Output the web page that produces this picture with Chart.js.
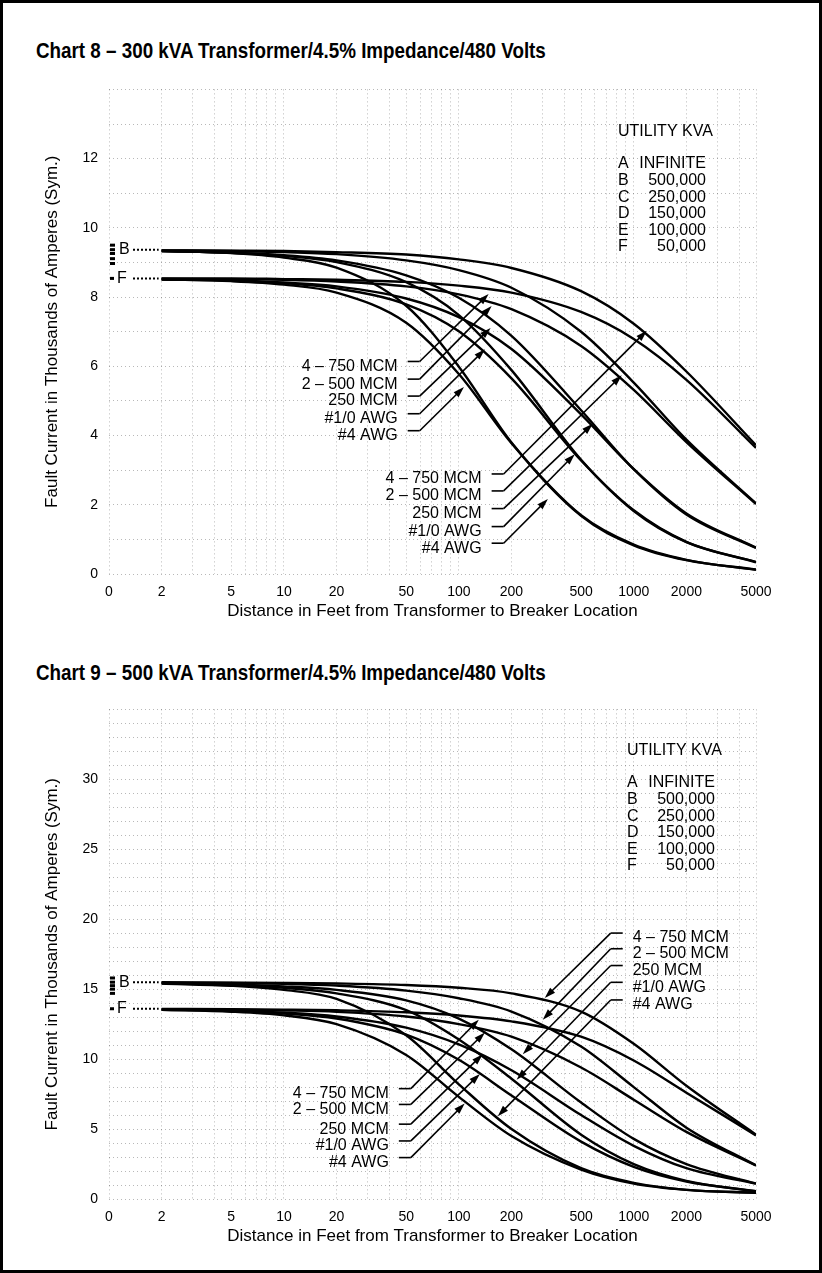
<!DOCTYPE html>
<html lang="en">
<head>
  <meta charset="UTF-8">
  <title>Fault Current Charts 8 and 9</title>
  <style>
    html, body {
      margin: 0;
      padding: 0;
      background: #fff;
    }
    body {
      width: 822px;
      height: 1273px;
      position: relative;
      overflow: hidden;
      font-family: "Liberation Sans", Arial, sans-serif;
    }
    .frame {
      position: absolute;
      left: 0;
      top: 0;
      width: 822px;
      height: 1273px;
      border: 3px solid #000;
      box-sizing: border-box;
    }
    h2 {
      position: absolute;
      left: 36px;
      margin: 0;
      line-height: 24px;
      font: bold 22px "Liberation Sans", Arial, sans-serif;
      white-space: nowrap;
      transform: scaleX(0.855);
      transform-origin: left center;
    }
    canvas {
      position: absolute;
      left: 0;
    }
  </style>
</head>
<body>
  <div class="frame"></div>
  <h2 style="top:38px">Chart 8 – 300 kVA Transformer/4.5% Impedance/480 Volts</h2>
  <canvas id="chart8" width="822" height="570" style="top:70px"></canvas>
  <h2 style="top:660px">Chart 9 – 500 kVA Transformer/4.5% Impedance/480 Volts</h2>
  <canvas id="chart9" width="822" height="575" style="top:690px"></canvas>

  <script src="https://cdn.jsdelivr.net/npm/chart.js"></script>
  <script>
    // distances (feet) where curves were read
    const distances = [2, 5, 10, 20, 50, 100, 200, 500, 1000, 2000, 5000];
    const xTickValues = [1, 2, 5, 10, 20, 50, 100, 200, 500, 1000, 2000, 5000];
    const xTickLabels = ['0', '2', '5', '10', '20', '50', '100', '200', '500', '1000', '2000', '5000'];
    const cables = ['4 – 750 MCM', '2 – 500 MCM', '250 MCM', '#1/0 AWG', '#4 AWG'];
    const utilityLetters = ['A', 'B', 'C', 'D', 'E', 'F'];
    const utilityKva = ['INFINITE', '500,000', '250,000', '150,000', '100,000', '50,000'];

    // chart 8 - 300 kVA (thousands of amperes)
    const c8Levels = [9.5, 9.37, 9.26, 9.11, 8.97, 8.54];
    const c8B750 = [9.35, 9.34, 9.33, 9.30, 9.23, 9.09, 8.84, 8.17, 7.23, 5.85, 3.72];
    const c8B500 = [9.35, 9.33, 9.30, 9.24, 9.06, 8.78, 8.27, 7.00, 5.53, 3.88, 2.04];
    const c8B250 = [9.33, 9.28, 9.21, 9.06, 8.63, 7.98, 6.88, 4.73, 3.03, 1.72, 0.75];
    const c8B10 = [9.33, 9.28, 9.19, 9.01, 8.43, 7.48, 5.89, 3.30, 1.82, 0.92, 0.35];
    const c8B4 = [9.33, 9.27, 9.14, 8.85, 7.75, 5.99, 3.80, 1.68, 0.83, 0.40, 0.13];
    const c8F750 = [8.54, 8.54, 8.52, 8.50, 8.44, 8.33, 8.13, 7.57, 6.79, 5.61, 3.64];
    const c8F500 = [8.53, 8.52, 8.50, 8.45, 8.31, 8.08, 7.65, 6.59, 5.32, 3.81, 2.02];
    const c8F250 = [8.52, 8.49, 8.42, 8.31, 7.96, 7.42, 6.50, 4.61, 3.03, 1.75, 0.76];
    const c8F10 = [8.51, 8.47, 8.40, 8.25, 7.79, 7.01, 5.65, 3.28, 1.84, 0.93, 0.34];
    const c8F4 = [8.51, 8.46, 8.36, 8.13, 7.26, 5.78, 3.78, 1.70, 0.85, 0.41, 0.12];
    const c8YLabels = [0, 2, 4, 6, 8, 10, 12];

    // chart 9 - 500 kVA
    const c9Levels = [15.8, 15.5, 15.25, 15.0, 14.7, 13.6];
    const c9B750 = [15.49, 15.47, 15.45, 15.41, 15.30, 15.10, 14.70, 13.40, 11.10, 8.10, 4.60];
    const c9B500 = [15.47, 15.44, 15.38, 15.25, 14.90, 14.35, 13.40, 10.90, 8.00, 5.10, 2.40];
    const c9B250 = [15.44, 15.34, 15.20, 14.95, 14.20, 12.90, 10.70, 6.90, 4.30, 2.50, 1.10];
    const c9B10 = [15.42, 15.30, 15.10, 14.70, 13.50, 11.40, 8.60, 4.60, 2.50, 1.30, 0.55];
    const c9B4 = [15.40, 15.24, 14.95, 14.30, 11.70, 8.20, 5.00, 2.20, 1.15, 0.65, 0.45];
    const c9F750 = [13.59, 13.57, 13.54, 13.49, 13.35, 13.12, 12.70, 11.60, 9.90, 7.60, 4.55];
    const c9F500 = [13.57, 13.54, 13.48, 13.38, 13.05, 12.50, 11.60, 9.40, 7.10, 4.80, 2.40];
    const c9F250 = [13.54, 13.46, 13.32, 13.05, 12.25, 11.05, 9.20, 6.00, 3.80, 2.20, 1.10];
    const c9F10 = [13.53, 13.43, 13.26, 12.90, 11.75, 9.95, 7.40, 4.10, 2.30, 1.25, 0.55];
    const c9F4 = [13.52, 13.39, 13.13, 12.50, 10.30, 7.30, 4.50, 2.10, 1.10, 0.65, 0.45];
    const c9YLabels = [0, 5, 10, 15, 20, 25, 30];

    // callouts: leader start (next to the text) and arrow tip, in feet / kA
    const c8UpperStart = [[51, 6.14], [51, 5.63], [51, 5.14], [51, 4.63], [51, 4.14]];
    const c8UpperTip = [[148, 8.09], [154, 7.74], [152, 7.11], [141, 6.49], [107, 5.4]];
    const c8LowerStart = [[154, 2.89], [154, 2.4], [154, 1.89], [154, 1.37], [154, 0.89]];
    const c8LowerTip = [[1187, 7.03], [854, 5.74], [583, 4.34], [460, 3.46], [323, 2.17]];
    const c9LeftStart = [[45.4, 7.89], [45.4, 6.76], [45.4, 5.35], [45.4, 4.15], [45.4, 2.96]];
    const c9LeftTip = [[130, 12.82], [141, 11.9], [137, 10.35], [132, 8.94], [108, 6.83]];
    const c9RightStart = [[865, 19.01], [865, 17.89], [865, 16.69], [865, 15.49], [865, 14.23]];
    const c9RightTip = [[310, 14.37], [302, 12.82], [232, 10.35], [214, 8.52], [167, 5.92]];

    const gridX = [];
    [1, 10, 100, 1000].forEach(decade => {
      for (let i = 1; i < 10; i++) {
        if (decade * i <= 5000) gridX.push(decade * i);
      }
    });

    const textFont = '16px "Liberation Sans", Arial, sans-serif';

    function arrow(ctx, x0, y0, x1, y1) {
      const a = Math.atan2(y1 - y0, x1 - x0);
      ctx.beginPath();
      ctx.moveTo(x0, y0);
      ctx.lineTo(x1 - Math.cos(a) * 6, y1 - Math.sin(a) * 6);
      ctx.stroke();
      ctx.beginPath();
      ctx.moveTo(x1, y1);
      ctx.lineTo(x1 - Math.cos(a) * 11 + Math.sin(a) * 3.5, y1 - Math.sin(a) * 11 - Math.cos(a) * 3.5);
      ctx.lineTo(x1 - Math.cos(a) * 11 - Math.sin(a) * 3.5, y1 - Math.sin(a) * 11 + Math.cos(a) * 3.5);
      ctx.closePath();
      ctx.fill();
    }

    const extras = {
      id: 'extras',
      afterDatasetsDraw(chart, args, opts) {
        const {ctx, chartArea, scales: {x, y}} = chart;
        ctx.save();
        ctx.fillStyle = '#000';
        ctx.strokeStyle = '#000';

        // utility level marks on the left edge
        opts.levels.forEach((v, i) => {
          ctx.fillRect(chartArea.left + 1, y.getPixelForValue(v) - 1.5, i === 5 ? 4 : 5, 3);
        });
        const x2 = x.getPixelForValue(2);
        ctx.font = '16px "Liberation Sans", Arial, sans-serif';
        ctx.textBaseline = 'middle';
        ctx.textAlign = 'left';
        [[1, 'B', 10], [5, 'F', 8]].forEach(([i, letter, dx]) => {
          const py = y.getPixelForValue(opts.levels[i]);
          ctx.fillText(letter, chartArea.left + dx, py);
          ctx.save();
          ctx.lineWidth = 2;
          ctx.setLineDash([2, 2]);
          ctx.beginPath();
          ctx.moveTo(chartArea.left + 24, py);
          ctx.lineTo(x2 - 3, py);
          ctx.stroke();
          ctx.restore();
        });

        // utility kVA legend
        ctx.font = textFont;
        const lx = opts.legend[0], ly = opts.legend[1];
        ctx.textAlign = 'left';
        ctx.fillText('UTILITY KVA', lx, ly);
        utilityLetters.forEach((letter, i) => {
          const ry = ly + 32 + i * 16.6;
          ctx.textAlign = 'left';
          ctx.fillText(letter, lx, ry);
          ctx.textAlign = 'right';
          ctx.fillText(utilityKva[i], lx + 88, ry);
        });

        // cable callouts
        ctx.lineWidth = 1.6;
        opts.callouts.forEach(group => {
          group.starts.forEach((s, i) => {
            const sx = x.getPixelForValue(s[0]);
            const sy = y.getPixelForValue(s[1]);
            const tx = x.getPixelForValue(group.tips[i][0]);
            const ty = y.getPixelForValue(group.tips[i][1]);
            const dir = tx > sx ? 1 : -1;
            ctx.beginPath();
            ctx.moveTo(sx, sy);
            ctx.lineTo(sx + dir * 12, sy);
            ctx.stroke();
            arrow(ctx, sx + dir * 12, sy, tx, ty);
            ctx.textAlign = dir > 0 ? 'right' : 'left';
            ctx.fillText(cables[i], sx - dir * 10, sy + 5);
          });
        });
        ctx.restore();
      }
    };

    function buildSeries(list) {
      return list.map(values => ({
        data: values.map((v, i) => ({x: distances[i], y: v})),
        borderColor: '#000',
        borderWidth: 2.4,
        pointRadius: 0,
        fill: false,
        cubicInterpolationMode: 'monotone'
      }));
    }

    function makeChart(id, series, yMax, yLabels, extraOpts) {
      return new Chart(document.getElementById(id), {
        type: 'line',
        data: {datasets: buildSeries(series)},
        options: {
          responsive: false,
          animation: false,
          layout: {padding: {top: 12, right: 66, left: 0, bottom: 0}},
          plugins: {
            legend: {display: false},
            tooltip: {enabled: false},
            extras: extraOpts
          },
          scales: {
            x: {
              type: 'logarithmic',
              min: 1,
              max: 5000,
              afterBuildTicks: scale => {
                scale.ticks = gridX.map(v => ({value: v}));
              },
              afterFit: scale => { scale.height = 66; },
              grid: {
                drawTicks: false,
                color: 'rgba(0,0,0,0.28)',
                lineWidth: 1
              },
              border: {display: false, dash: [1, 3]},
              ticks: {
                autoSkip: false,
                maxRotation: 0,
                padding: 10,
                color: '#000',
                font: {family: '"Liberation Sans", Arial, sans-serif', size: 14},
                callback: value => {
                  const k = xTickValues.indexOf(value);
                  return k >= 0 ? xTickLabels[k] : '';
                }
              },
              title: {
                display: true,
                text: 'Distance in Feet from Transformer to Breaker Location',
                color: '#000',
                font: {family: '"Liberation Sans", Arial, sans-serif', size: 17},
                padding: {top: 0, bottom: 18}
              }
            },
            y: {
              min: 0,
              max: yMax,
              afterBuildTicks: scale => {
                const t = [];
                for (let v = 0; v <= yMax; v++) t.push({value: v});
                scale.ticks = t;
              },
              afterFit: scale => { scale.width = 109; },
              grid: {
                drawTicks: false,
                color: 'rgba(0,0,0,0.28)',
                lineWidth: 1
              },
              border: {display: false, dash: [1, 3]},
              ticks: {
                padding: 11,
                color: '#000',
                autoSkip: false,
                font: {family: '"Liberation Sans", Arial, sans-serif', size: 14},
                callback: value => (yLabels.includes(value) ? String(value) : '')
              },
              title: {
                display: true,
                text: 'Fault Current in Thousands of Amperes (Sym.)',
                color: '#000',
                font: {family: '"Liberation Sans", Arial, sans-serif', size: 17},
                padding: {top: 42, bottom: 0}
              }
            }
          }
        },
        plugins: [extras]
      });
    }

    makeChart('chart8',
      [c8B750, c8B500, c8B250, c8B10, c8B4, c8F750, c8F500, c8F250, c8F10, c8F4],
      14, c8YLabels, {
        levels: c8Levels,
        legend: [618, 62],
        callouts: [
          {starts: c8UpperStart, tips: c8UpperTip},
          {starts: c8LowerStart, tips: c8LowerTip}
        ]
      });

    makeChart('chart9',
      [c9B750, c9B500, c9B250, c9B10, c9B4, c9F750, c9F500, c9F250, c9F10, c9F4],
      35, c9YLabels, {
        levels: c9Levels,
        legend: [627, 61],
        callouts: [
          {starts: c9LeftStart, tips: c9LeftTip},
          {starts: c9RightStart, tips: c9RightTip}
        ]
      });
  </script>
</body>
</html>
